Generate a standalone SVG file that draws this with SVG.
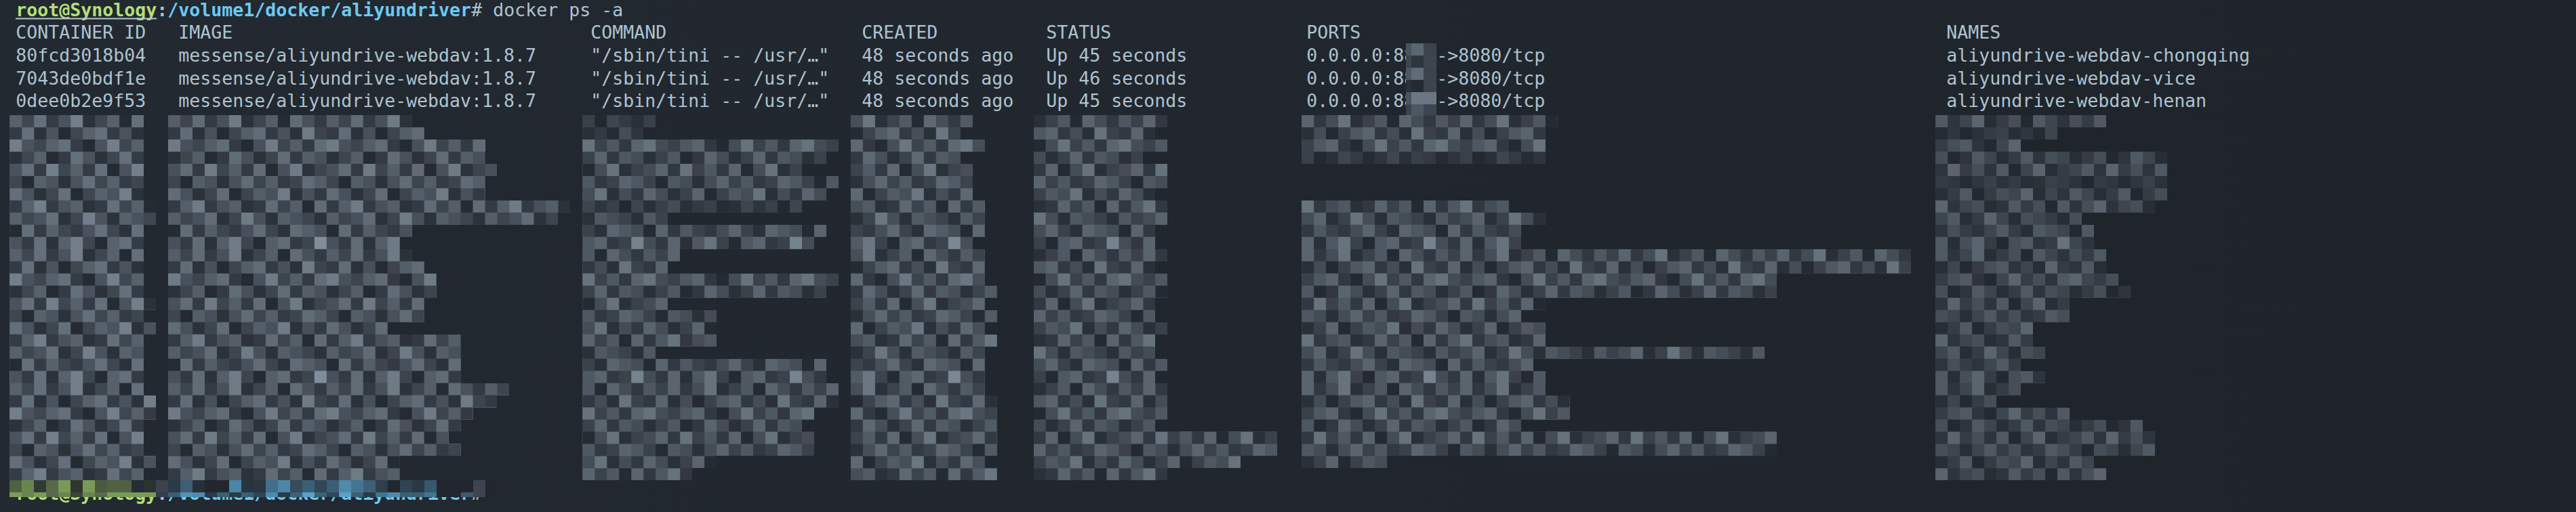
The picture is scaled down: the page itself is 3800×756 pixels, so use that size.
<svg xmlns="http://www.w3.org/2000/svg" width="3800" height="756" viewBox="0 0 3800 756">
<defs>
<style>
.t{font-family:"DejaVu Sans Mono","Liberation Mono",monospace;font-size:26.57px;fill:#adc3d1}
.g{fill:#b4df79;font-weight:bold}
.b{fill:#6cc9f2;font-weight:bold}
.k{font-weight:bold}
</style>
<linearGradient id="bg" x1="0" y1="0" x2="1" y2="0">
<stop offset="0" stop-color="#232930"/>
<stop offset="1" stop-color="#1f242b"/>
</linearGradient>
<pattern id="mz" patternUnits="userSpaceOnUse" width="13" height="11">
<rect width="13" height="11" fill="#2c323a"/>
<path fill="#252b33" d="M9 0h1v1h-1zM4 1h1v1h-1zM6 2h1v1h-1zM3 3h1v1h-1zM8 4h1v1h-1zM1 5h1v1h-1zM5 6h1v1h-1zM11 7h1v1h-1zM0 9h1v1h-1zM7 10h1v1h-1z"/>
<path fill="#343b44" d="M3 0h1v1h-1zM12 0h1v1h-1zM0 1h1v1h-1zM8 1h1v1h-1zM5 2h1v1h-1zM11 2h1v1h-1zM4 3h1v1h-1zM10 3h1v1h-1zM2 4h1v1h-1zM6 4h1v1h-1zM9 5h1v1h-1zM12 6h1v1h-1zM0 7h1v1h-1zM3 7h1v1h-1zM7 7h1v1h-1zM2 9h1v1h-1zM5 9h1v1h-1zM1 10h1v1h-1zM10 10h1v1h-1z"/>
<path fill="#3e464f" d="M1 0h1v1h-1zM7 0h1v1h-1zM5 1h1v1h-1zM12 1h1v1h-1zM2 2h1v1h-1zM9 2h1v1h-1zM1 3h1v1h-1zM8 3h1v1h-1zM4 4h1v1h-1zM12 4h1v1h-1zM0 5h1v1h-1zM7 5h1v1h-1zM10 5h1v1h-1zM3 6h1v1h-1zM6 6h1v1h-1zM9 7h1v1h-1zM1 8h1v1h-1zM5 8h1v1h-1zM11 8h1v1h-1zM4 9h1v1h-1zM8 9h1v1h-1zM6 10h1v1h-1zM11 10h1v1h-1z"/>
<path fill="#4a535d" d="M4 0h1v1h-1zM11 0h1v1h-1zM3 1h1v1h-1zM9 1h1v1h-1zM1 2h1v1h-1zM7 2h1v1h-1zM6 3h1v1h-1zM12 3h1v1h-1zM0 4h1v1h-1zM9 4h1v1h-1zM3 5h1v1h-1zM5 5h1v1h-1zM1 6h1v1h-1zM8 6h1v1h-1zM11 6h1v1h-1zM4 7h1v1h-1zM2 8h1v1h-1zM7 8h1v1h-1zM10 8h1v1h-1zM6 9h1v1h-1zM12 9h1v1h-1zM0 10h1v1h-1z"/>
<path fill="#56616b" d="M0 0h1v1h-1zM8 0h1v1h-1zM6 1h1v1h-1zM3 2h1v1h-1zM10 2h1v1h-1zM2 3h1v1h-1zM11 3h1v1h-1zM5 4h1v1h-1zM2 5h1v1h-1zM8 5h1v1h-1zM12 5h1v1h-1zM7 6h1v1h-1zM1 7h1v1h-1zM5 7h1v1h-1zM10 7h1v1h-1zM0 8h1v1h-1zM9 8h1v1h-1zM3 9h1v1h-1zM11 9h1v1h-1zM4 10h1v1h-1zM8 10h1v1h-1z"/>
<path fill="#636f7a" d="M2 0h1v1h-1zM10 0h1v1h-1zM1 1h1v1h-1zM7 1h1v1h-1zM4 2h1v1h-1zM12 2h1v1h-1zM5 3h1v1h-1zM9 3h1v1h-1zM1 4h1v1h-1zM7 4h1v1h-1zM6 5h1v1h-1zM11 5h1v1h-1zM0 6h1v1h-1zM4 6h1v1h-1zM8 7h1v1h-1zM12 7h1v1h-1zM3 8h1v1h-1zM1 9h1v1h-1zM7 9h1v1h-1zM10 9h1v1h-1zM2 10h1v1h-1zM9 10h1v1h-1z"/>
<path fill="#727f8a" d="M5 0h1v1h-1zM11 1h1v1h-1zM0 2h1v1h-1zM8 2h1v1h-1zM3 4h1v1h-1zM10 4h1v1h-1zM9 6h1v1h-1zM2 7h1v1h-1zM6 8h1v1h-1zM5 10h1v1h-1z"/>
<path fill="#8493a0" d="M12 10h1v1h-1z"/>
</pattern>
</defs>
<rect id="background" x="0" y="0" width="3800" height="756" fill="url(#bg)"/>

<g id="prompt-top" class="t">
<text x="23.3" y="23.5" class="g">root@Synology</text>
<rect x="23" y="26.5" width="208" height="2" fill="#b2c6d2"/>
<text x="231.3" y="23.5" class="k">:</text>
<text x="247.3" y="23.5" class="b">/volume1/docker/aliyundriver</text>
<text x="695.3" y="23.5">#</text>
<text x="727.3" y="23.5">docker ps -a</text>
</g>

<g id="header" class="t">
<text x="23.3" y="57">CONTAINER ID</text>
<text x="263.3" y="57">IMAGE</text>
<text x="871.3" y="57">COMMAND</text>
<text x="1271.3" y="57">CREATED</text>
<text x="1543.3" y="57">STATUS</text>
<text x="1927.3" y="57">PORTS</text>
<text x="2871.3" y="57">NAMES</text>
</g>

<g id="row1" class="t">
<text x="23.3" y="91">80fcd3018b04</text>
<text x="263.3" y="91">messense/aliyundrive-webdav:1.8.7</text>
<text x="871.3" y="91">"/sbin/tini -- /usr/…"</text>
<text x="1271.3" y="91">48 seconds ago</text>
<text x="1543.3" y="91">Up 45 seconds</text>
<text x="1927.3" y="91">0.0.0.0:88</text>
<text x="2119.3" y="91">-&gt;8080/tcp</text>
<text x="2871.3" y="91">aliyundrive-webdav-chongqing</text>
</g>

<g id="row2" class="t">
<text x="23.3" y="124.5">7043de0bdf1e</text>
<text x="263.3" y="124.5">messense/aliyundrive-webdav:1.8.7</text>
<text x="871.3" y="124.5">"/sbin/tini -- /usr/…"</text>
<text x="1271.3" y="124.5">48 seconds ago</text>
<text x="1543.3" y="124.5">Up 46 seconds</text>
<text x="1927.3" y="124.5">0.0.0.0:88</text>
<text x="2119.3" y="124.5">-&gt;8080/tcp</text>
<text x="2871.3" y="124.5">aliyundrive-webdav-vice</text>
</g>

<g id="row3" class="t">
<text x="23.3" y="158">0dee0b2e9f53</text>
<text x="263.3" y="158">messense/aliyundrive-webdav:1.8.7</text>
<text x="871.3" y="158">"/sbin/tini -- /usr/…"</text>
<text x="1271.3" y="158">48 seconds ago</text>
<text x="1543.3" y="158">Up 45 seconds</text>
<text x="1927.3" y="158">0.0.0.0:88</text>
<text x="2119.3" y="158">-&gt;8080/tcp</text>
<text x="2871.3" y="158">aliyundrive-webdav-henan</text>
</g>

<g id="prompt-bottom" class="t">
<text x="23.3" y="738" class="g">root@Synology</text>
<text x="231.3" y="738" class="k">:</text>
<text x="247.3" y="738" class="b">/volume1/docker/aliyundriver</text>
<text x="695.3" y="738">#</text>
</g>

<g id="port-redaction" shape-rendering="crispEdges">
<rect x="2074" y="64" width="8" height="18" fill="#4a545e"/><rect x="2082" y="64" width="18" height="18" fill="#5a6671"/><rect x="2100" y="64" width="19" height="18" fill="#3b434c"/>
<rect x="2074" y="82" width="8" height="18" fill="#3d4650"/><rect x="2082" y="82" width="18" height="18" fill="#2e353d"/><rect x="2100" y="82" width="19" height="18" fill="#3d4650"/>
<rect x="2074" y="100" width="8" height="18" fill="#4d5762"/><rect x="2082" y="100" width="18" height="18" fill="#5f6b76"/><rect x="2100" y="100" width="19" height="18" fill="#3b434c"/>
<rect x="2074" y="118" width="8" height="18" fill="#2b3139"/><rect x="2082" y="118" width="18" height="18" fill="#242a32"/><rect x="2100" y="118" width="19" height="18" fill="#3c444e"/>
<rect x="2074" y="136" width="8" height="18" fill="#4a545e"/><rect x="2082" y="136" width="18" height="18" fill="#6a7782"/><rect x="2100" y="136" width="19" height="18" fill="#6a7782"/>
<rect x="2074" y="154" width="8" height="18" fill="#3b434c"/><rect x="2082" y="154" width="18" height="18" fill="#4d5762"/><rect x="2100" y="154" width="19" height="18" fill="#3d4650"/>
</g>

<g id="mosaic" transform="translate(14.3 170) scale(17.98)" shape-rendering="crispEdges">
<path id="m-id" fill="url(#mz)" d="M0 0H11V7H12V9H11V15H12V16H11V17H12V18H11V23H12V25H11V28H12V29H11V30H0Z"/>
<path id="m-image" fill="url(#mz)" opacity="0.95" d="M13 0H33V1H34V2H39V4H40V5H39V7H46V8H45V9H33V10H32V11H33V12H34V13H35V15H34V17H31V18H37V22H41V23H40V24H38V25H37V26H36V27H37V28H32V30H13Z"/>
<path id="m-command" fill="url(#mz)" opacity="0.85" d="M47 0H53V1H52V2H68V3H67V4H65V5H68V6H67V7H65V8H54V9H67V10H66V11H55V12H54V13H68V14H67V15H54V16H58V19H53V20H67V22H68V24H66V25H65V26H66V28H58V29H56V30H47Z"/>
<path id="m-created" fill="url(#mz)" opacity="0.9" d="M69 0H79V1H78V2H80V3H78V4H79V7H80V10H79V11H80V14H81V15H80V16H81V17H80V18H81V19H80V23H81V28H80V29H81V30H69Z"/>
<path id="m-status" fill="url(#mz)" opacity="0.85" d="M84 0H95V1H94V2H95V3H93V4H95V6H94V7H95V9H94V11H95V12H94V13H95V15H94V17H95V18H94V20H95V21H94V22H95V25H94V26H104V28H101V29H95V30H84Z"/>
<path id="m-ports" fill="url(#mz)" opacity="0.85" d="M106 0H127V1H126V4H106ZM106 7H123V8H126V9H124V11H156V13H145V15H126V16H124V17H126V19H144V20H125V21H126V23H128V25H124V26H145V28H113V29H106Z"/>
<path id="m-names" fill="url(#mz)" opacity="0.7" d="M158 0H172V1H168V2H165V3H177V7H176V8H170V9H171V11H172V13H173V14H174V15H169V17H166V19H167V20H165V21H167V22H165V23H163V24H169V25H175V26H176V28H171V29H172V30H158Z"/>
<g id="m-shade" fill="#22272f" opacity="0.5">
<rect x="47" y="0" width="6" height="2"/>
<rect x="47" y="7" width="18" height="1"/>
<rect x="106" y="3" width="20" height="1"/>
<rect x="158" y="5" width="19" height="1"/>
<rect x="158" y="1" width="10" height="1"/>
<rect x="123" y="28" width="22" height="1"/>
</g>
<g id="m-prompt">
<rect x="0" y="30" width="40" height="1.39" fill="#22272f"/>
<rect x="0" y="30" width="1" height="1" fill="#4f6142"/>
<rect x="1" y="30" width="1" height="1" fill="#6a8450"/>
<rect x="2" y="30" width="1" height="1" fill="#323a33"/>
<rect x="3" y="30" width="1" height="1" fill="#56694a"/>
<rect x="4" y="30" width="1" height="1" fill="#7a9957"/>
<rect x="5" y="30" width="1" height="1" fill="#2e3630"/>
<rect x="6" y="30" width="1" height="1" fill="#7a9957"/>
<rect x="7" y="30" width="1" height="1" fill="#4a5a40"/>
<rect x="8" y="30" width="2" height="1" fill="#4f6142"/>
<rect x="10" y="30" width="1" height="1" fill="#262c34"/>
<rect x="11" y="30" width="1" height="1" fill="#2b332f"/>
<rect x="12" y="30" width="1" height="1" fill="#3c424c"/>
<rect x="13" y="30" width="1" height="1" fill="#2a3a48"/>
<rect x="14" y="30" width="1" height="1" fill="#3e5e74"/>
<rect x="15" y="30" width="1" height="1" fill="#263039"/>
<rect x="18" y="30" width="1" height="1" fill="#4a85a5"/>
<rect x="19" y="30" width="1" height="1" fill="#283540"/>
<rect x="20" y="30" width="1" height="1" fill="#2a3640"/>
<rect x="21" y="30" width="1" height="1" fill="#42708c"/>
<rect x="22" y="30" width="1" height="1" fill="#4d87a7"/>
<rect x="23" y="30" width="1" height="1" fill="#344c5c"/>
<rect x="24" y="30" width="1" height="1" fill="#3a5f74"/>
<rect x="25" y="30" width="1" height="1" fill="#2e4656"/>
<rect x="26" y="30" width="1" height="1" fill="#3a5f74"/>
<rect x="27" y="30" width="1" height="1" fill="#4f8aab"/>
<rect x="28" y="30" width="1" height="1" fill="#437590"/>
<rect x="29" y="30" width="1" height="1" fill="#3d6075"/>
<rect x="30" y="30" width="1" height="1" fill="#2e3f4d"/>
<rect x="32" y="30" width="1" height="1" fill="#2f4555"/>
<rect x="33" y="30" width="1" height="1" fill="#2a3944"/>
<rect x="34" y="30" width="1" height="1" fill="#365a6c"/>
<rect x="38" y="30" width="1" height="1" fill="#3d4450"/>
<rect x="0" y="31" width="1" height="0.39" fill="#7a9a58"/>
<rect x="1" y="31" width="1" height="0.39" fill="#68864e"/>
<rect x="2" y="31" width="1" height="0.39" fill="#7a9a58"/>
<rect x="3" y="31" width="1" height="0.39" fill="#56694a"/>
<rect x="4" y="31" width="1" height="0.39" fill="#6a8450"/>
<rect x="5" y="31" width="1" height="0.39" fill="#3a4535"/>
<rect x="6" y="31" width="1" height="0.39" fill="#6a8450"/>
<rect x="7" y="31" width="1" height="0.39" fill="#56694a"/>
<rect x="8" y="31" width="4" height="0.39" fill="#7a9a58"/>
<rect x="12" y="31" width="1" height="0.39" fill="#30404d"/>
<rect x="13" y="31" width="1" height="0.39" fill="#3a5f74"/>
<rect x="14" y="31" width="1" height="0.39" fill="#5092b8"/>
<rect x="15" y="31" width="1" height="0.39" fill="#4f8aab"/>
<rect x="16" y="31" width="1" height="0.39" fill="#2a3a46"/>
<rect x="17" y="31" width="1" height="0.39" fill="#3d6075"/>
<rect x="18" y="31" width="1" height="0.39" fill="#2a3a46"/>
<rect x="19" y="31" width="1" height="0.39" fill="#3a5f74"/>
<rect x="20" y="31" width="1" height="0.39" fill="#2e4656"/>
<rect x="21" y="31" width="1" height="0.39" fill="#4f8aab"/>
<rect x="22" y="31" width="1" height="0.39" fill="#2a3a46"/>
<rect x="23" y="31" width="1" height="0.39" fill="#3d6075"/>
<rect x="24" y="31" width="1" height="0.39" fill="#5aa0c8"/>
<rect x="25" y="31" width="1" height="0.39" fill="#3d6075"/>
<rect x="26" y="31" width="1" height="0.39" fill="#2e4656"/>
<rect x="27" y="31" width="1" height="0.39" fill="#5aa0c8"/>
<rect x="28" y="31" width="1" height="0.39" fill="#3d6075"/>
<rect x="29" y="31" width="1" height="0.39" fill="#2a3a46"/>
<rect x="30" y="31" width="1" height="0.39" fill="#437590"/>
<rect x="31" y="31" width="1" height="0.39" fill="#4f8aab"/>
<rect x="32" y="31" width="2" height="0.39" fill="#3a5f74"/>
<rect x="34" y="31" width="1" height="0.39" fill="#437590"/>
<rect x="37" y="31" width="1" height="0.39" fill="#3d5a6c"/>
<rect x="38" y="31" width="1" height="0.39" fill="#3d4450"/>
</g>
</g>
</svg>
